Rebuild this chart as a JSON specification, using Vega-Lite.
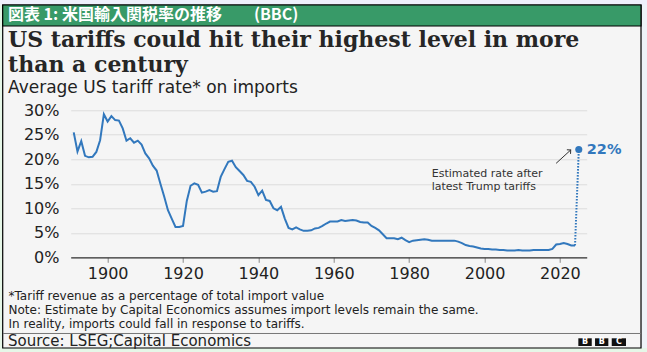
{
  "$schema": "https://vega.github.io/schema/vega-lite/v6.json",
  "width": 516,
  "height": 147,
  "autosize": {"type": "none"},
  "padding": {"left": 70.7, "top": 110.3, "right": 60.3, "bottom": 94.7},
  "background": "#f5f5f5",
  "config": {
    "view": {"stroke": null},
    "font": "DejaVu Sans",
    "axis": {"labelOverlap": false, "labelFlush": false},
    "axisY": {"labelOverlap": false, "tickCount": 7}
  },
  "title": {
    "text": ["US tariffs could hit their highest level in more", "than a century"],
    "subtitle": "Average US tariff rate* on imports",
    "anchor": "start",
    "frame": "group",
    "dx": -62.7,
    "offset": -97,
    "font": "DejaVu Serif",
    "fontSize": 22,
    "fontWeight": "bold",
    "color": "#262626",
    "lineHeight": 25,
    "subtitleFont": "DejaVu Sans",
    "subtitleFontSize": 17,
    "subtitleColor": "#222222",
    "subtitlePadding": 3
  },
  "datasets": {
    "tariff": [
      {"year": 1891, "rate": 25.5}, {"year": 1892, "rate": 21.6}, {"year": 1893, "rate": 23.7}, {"year": 1894, "rate": 20.7},
      {"year": 1895, "rate": 20.4}, {"year": 1896, "rate": 20.5}, {"year": 1897, "rate": 21.5}, {"year": 1898, "rate": 23.9},
      {"year": 1899, "rate": 29.2}, {"year": 1900, "rate": 27.7}, {"year": 1901, "rate": 28.8}, {"year": 1902, "rate": 28.0},
      {"year": 1903, "rate": 27.9}, {"year": 1904, "rate": 26.3}, {"year": 1905, "rate": 23.8}, {"year": 1906, "rate": 24.3},
      {"year": 1907, "rate": 23.4}, {"year": 1908, "rate": 23.8}, {"year": 1909, "rate": 23.0}, {"year": 1910, "rate": 21.2},
      {"year": 1911, "rate": 20.2}, {"year": 1912, "rate": 18.7}, {"year": 1913, "rate": 17.7}, {"year": 1914, "rate": 15.0},
      {"year": 1915, "rate": 12.4}, {"year": 1916, "rate": 9.6}, {"year": 1917, "rate": 7.9}, {"year": 1918, "rate": 6.2},
      {"year": 1919, "rate": 6.2}, {"year": 1920, "rate": 6.4}, {"year": 1921, "rate": 11.5}, {"year": 1922, "rate": 14.6},
      {"year": 1923, "rate": 15.1}, {"year": 1924, "rate": 14.8}, {"year": 1925, "rate": 13.2}, {"year": 1926, "rate": 13.4},
      {"year": 1927, "rate": 13.7}, {"year": 1928, "rate": 13.4}, {"year": 1929, "rate": 13.5}, {"year": 1930, "rate": 16.4},
      {"year": 1931, "rate": 18.0}, {"year": 1932, "rate": 19.5}, {"year": 1933, "rate": 19.7}, {"year": 1934, "rate": 18.4},
      {"year": 1935, "rate": 17.6}, {"year": 1936, "rate": 16.8}, {"year": 1937, "rate": 15.6}, {"year": 1938, "rate": 15.4},
      {"year": 1939, "rate": 14.4}, {"year": 1940, "rate": 12.7}, {"year": 1941, "rate": 13.6}, {"year": 1942, "rate": 11.7},
      {"year": 1943, "rate": 11.5}, {"year": 1944, "rate": 10.0}, {"year": 1945, "rate": 9.6}, {"year": 1946, "rate": 10.3},
      {"year": 1947, "rate": 7.9}, {"year": 1948, "rate": 6.0}, {"year": 1949, "rate": 5.7}, {"year": 1950, "rate": 6.1},
      {"year": 1951, "rate": 5.7}, {"year": 1952, "rate": 5.4}, {"year": 1953, "rate": 5.4}, {"year": 1954, "rate": 5.5},
      {"year": 1955, "rate": 5.9}, {"year": 1956, "rate": 6.0}, {"year": 1957, "rate": 6.4}, {"year": 1958, "rate": 6.9},
      {"year": 1959, "rate": 7.3}, {"year": 1960, "rate": 7.3}, {"year": 1961, "rate": 7.3}, {"year": 1962, "rate": 7.6},
      {"year": 1963, "rate": 7.4}, {"year": 1964, "rate": 7.5}, {"year": 1965, "rate": 7.6}, {"year": 1966, "rate": 7.5},
      {"year": 1967, "rate": 7.2}, {"year": 1968, "rate": 7.1}, {"year": 1969, "rate": 7.1}, {"year": 1970, "rate": 6.4},
      {"year": 1971, "rate": 6.0}, {"year": 1972, "rate": 5.5}, {"year": 1973, "rate": 4.7}, {"year": 1974, "rate": 3.9},
      {"year": 1975, "rate": 3.9}, {"year": 1976, "rate": 3.9}, {"year": 1977, "rate": 3.7}, {"year": 1978, "rate": 4.0},
      {"year": 1979, "rate": 3.5}, {"year": 1980, "rate": 3.1}, {"year": 1981, "rate": 3.4}, {"year": 1982, "rate": 3.5},
      {"year": 1983, "rate": 3.6}, {"year": 1984, "rate": 3.7}, {"year": 1985, "rate": 3.6}, {"year": 1986, "rate": 3.4},
      {"year": 1987, "rate": 3.4}, {"year": 1988, "rate": 3.4}, {"year": 1989, "rate": 3.4}, {"year": 1990, "rate": 3.4},
      {"year": 1991, "rate": 3.4}, {"year": 1992, "rate": 3.4}, {"year": 1993, "rate": 3.2}, {"year": 1994, "rate": 2.9},
      {"year": 1995, "rate": 2.5}, {"year": 1996, "rate": 2.3}, {"year": 1997, "rate": 2.2}, {"year": 1998, "rate": 2.0},
      {"year": 1999, "rate": 1.8}, {"year": 2000, "rate": 1.7}, {"year": 2001, "rate": 1.7}, {"year": 2002, "rate": 1.6},
      {"year": 2003, "rate": 1.6}, {"year": 2004, "rate": 1.5}, {"year": 2005, "rate": 1.5}, {"year": 2006, "rate": 1.4},
      {"year": 2007, "rate": 1.4}, {"year": 2008, "rate": 1.4}, {"year": 2009, "rate": 1.5}, {"year": 2010, "rate": 1.4},
      {"year": 2011, "rate": 1.4}, {"year": 2012, "rate": 1.4}, {"year": 2013, "rate": 1.5}, {"year": 2014, "rate": 1.5},
      {"year": 2015, "rate": 1.5}, {"year": 2016, "rate": 1.5}, {"year": 2017, "rate": 1.5}, {"year": 2018, "rate": 1.7},
      {"year": 2019, "rate": 2.6}, {"year": 2020, "rate": 2.7}, {"year": 2021, "rate": 2.9}, {"year": 2022, "rate": 2.7},
      {"year": 2023, "rate": 2.4}, {"year": 2024, "rate": 2.4}
    ],
    "estimate": [
      {"year": 2024, "rate": 2.4},
      {"year": 2025, "rate": 22}
    ],
    "latest": [
      {"year": 2025, "rate": 22, "label": "22%"}
    ],
    "one": [{}]
  },
  "data": {"name": "one"},
  "layer": [
    {
      "data": {"name": "tariff"},
      "mark": {"type": "line", "color": "#3278bd", "strokeWidth": 2, "interpolate": "linear"},
      "encoding": {
        "x": {
          "field": "year", "type": "quantitative",
          "scale": {"domain": [1890.2, 2027.1], "nice": false, "zero": false},
          "axis": {
            "values": [1900, 1920, 1940, 1960, 1980, 2000, 2020],
            "format": "d",
            "grid": false,
            "domainColor": "#333333",
            "domainWidth": 1.2,
            "tickColor": "#888888",
            "tickSize": 5,
            "labelFont": "DejaVu Sans",
            "labelFontSize": 16,
            "labelColor": "#222222",
            "labelPadding": 3,
            "labelOverlap": false,
            "title": [
              "*Tariff revenue as a percentage of total import value",
              "Note: Estimate by Capital Economics assumes import levels remain the same.",
              "In reality, imports could fall in response to tariffs."
            ],
            "titleFont": "DejaVu Sans",
            "titleFontSize": 12,
            "titleFontWeight": "normal",
            "titleColor": "#222222",
            "titleAnchor": "start",
            "titleAlign": "left",
            "titleBaseline": "top",
            "titleLineHeight": 14,
            "titleX": -62.7,
            "titleY": 33
          }
        },
        "y": {
          "field": "rate", "type": "quantitative",
          "scale": {"domain": [0, 30], "nice": false},
          "axis": {
            "values": [0, 5, 10, 15, 20, 25, 30],
            "tickCount": 7,
            "labelExpr": "datum.value + '%'",
            "grid": true,
            "gridColor": "#dcdcdc",
            "gridWidth": 1,
            "domain": false,
            "ticks": false,
            "labelFont": "DejaVu Sans",
            "labelFontSize": 16,
            "labelColor": "#222222",
            "labelPadding": 11.7,
            "labelBaseline": "middle",
            "labelOverlap": false,
            "labelFlush": false,
            "title": null
          }
        }
      }
    },
    {
      "mark": {"type": "rect", "fill": "#eef0fb"},
      "encoding": {
        "x": {"datum": 1871.44, "type": "quantitative"},
        "x2": {"datum": 2043.1},
        "y": {"datum": 52.51, "type": "quantitative"},
        "y2": {"datum": 51.49}
      }
    },
    {
      "mark": {"type": "rect", "fill": "#e6f7e8"},
      "encoding": {
        "x": {"datum": 1871.44, "type": "quantitative"},
        "x2": {"datum": 1872.16},
        "y": {"datum": 51.49, "type": "quantitative"},
        "y2": {"datum": -19.33}
      }
    },
    {
      "mark": {"type": "rect", "fill": "#eef3f8"},
      "encoding": {
        "x": {"datum": 2041.51, "type": "quantitative"},
        "x2": {"datum": 2043.1},
        "y": {"datum": 51.49, "type": "quantitative"},
        "y2": {"datum": -19.33}
      }
    },
    {
      "mark": {"type": "rect", "fill": "#e6f7e8"},
      "encoding": {
        "x": {"datum": 1871.44, "type": "quantitative"},
        "x2": {"datum": 2043.1},
        "y": {"datum": -18.51, "type": "quantitative"},
        "y2": {"datum": -19.33}
      }
    },
    {
      "mark": {"type": "rect", "fill": null, "stroke": "#000000", "strokeWidth": 1.2},
      "encoding": {
        "x": {"datum": 1872.16, "type": "quantitative"},
        "x2": {"datum": 2041.51},
        "y": {"datum": 51.49, "type": "quantitative"},
        "y2": {"datum": -18.51}
      }
    },
    {
      "mark": {"type": "rect", "fill": "#389a68", "stroke": "#000000", "strokeWidth": 1.2},
      "encoding": {
        "x": {"datum": 1872.16, "type": "quantitative"},
        "x2": {"datum": 2041.51},
        "y": {"datum": 51.49, "type": "quantitative"},
        "y2": {"datum": 47.2}
      }
    },
    {
      "mark": {"type": "text", "text": "図表 1: 米国輸入関税率の推移　　(BBC)", "align": "left", "baseline": "middle", "font": "Noto Sans CJK JP", "fontSize": 16, "fontWeight": "bold", "color": "#ffffff"},
      "encoding": {
        "x": {"datum": 1873.56, "type": "quantitative"},
        "y": {"datum": 49.35, "type": "quantitative"}
      }
    },
    {
      "mark": {"type": "rule", "color": "#777777", "strokeWidth": 1},
      "encoding": {
        "x": {"datum": 1872.24, "type": "quantitative"},
        "x2": {"datum": 2041.51},
        "y": {"datum": -15.55, "type": "quantitative"}
      }
    },
    {
      "mark": {"type": "text", "text": "Source: LSEG;Capital Economics", "align": "left", "baseline": "middle", "fontSize": 15, "color": "#222222"},
      "encoding": {
        "x": {"datum": 1873.56, "type": "quantitative"},
        "y": {"datum": -17.08, "type": "quantitative"}
      }
    },
    {
      "mark": {"type": "rect", "fill": "#111111"},
      "encoding": {
        "x": {"datum": 2024.88, "type": "quantitative"},
        "x2": {"datum": 2028.44},
        "y": {"datum": -16.53, "type": "quantitative"},
        "y2": {"datum": -18.1}
      }
    },
    {
      "mark": {"type": "rect", "fill": "#111111"},
      "encoding": {
        "x": {"datum": 2029.31, "type": "quantitative"},
        "x2": {"datum": 2032.84},
        "y": {"datum": -16.53, "type": "quantitative"},
        "y2": {"datum": -18.1}
      }
    },
    {
      "mark": {"type": "rect", "fill": "#111111"},
      "encoding": {
        "x": {"datum": 2033.74, "type": "quantitative"},
        "x2": {"datum": 2037.53},
        "y": {"datum": -16.53, "type": "quantitative"},
        "y2": {"datum": -18.1}
      }
    },
    {
      "mark": {"type": "text", "text": "B", "align": "center", "baseline": "middle", "fontSize": 8, "fontWeight": "bold", "color": "#ffffff"},
      "encoding": {
        "x": {"datum": 2026.66, "type": "quantitative"},
        "y": {"datum": -17.33, "type": "quantitative"}
      }
    },
    {
      "mark": {"type": "text", "text": "B", "align": "center", "baseline": "middle", "fontSize": 8, "fontWeight": "bold", "color": "#ffffff"},
      "encoding": {
        "x": {"datum": 2031.08, "type": "quantitative"},
        "y": {"datum": -17.33, "type": "quantitative"}
      }
    },
    {
      "mark": {"type": "text", "text": "C", "align": "center", "baseline": "middle", "fontSize": 8, "fontWeight": "bold", "color": "#ffffff"},
      "encoding": {
        "x": {"datum": 2035.64, "type": "quantitative"},
        "y": {"datum": -17.33, "type": "quantitative"}
      }
    },
    {
      "data": {"name": "estimate"},
      "mark": {"type": "line", "color": "#3278bd", "strokeWidth": 2, "strokeDash": [1.6, 1.4]},
      "encoding": {
        "x": {"field": "year", "type": "quantitative"},
        "y": {"field": "rate", "type": "quantitative"}
      }
    },
    {
      "data": {"name": "latest"},
      "mark": {"type": "point", "filled": true, "size": 50, "color": "#3278bd", "opacity": 1},
      "encoding": {
        "x": {"field": "year", "type": "quantitative"},
        "y": {"field": "rate", "type": "quantitative"}
      }
    },
    {
      "data": {"name": "latest"},
      "mark": {"type": "text", "align": "left", "baseline": "middle", "dx": 8, "fontSize": 14.5, "fontWeight": "bold", "color": "#3278bd"},
      "encoding": {
        "x": {"field": "year", "type": "quantitative"},
        "y": {"field": "rate", "type": "quantitative"},
        "text": {"field": "label"}
      }
    },
    {
      "mark": {"type": "text", "text": ["Estimated rate after", "latest Trump tariffs"], "align": "left", "baseline": "middle", "fontSize": 11, "lineHeight": 12.5, "color": "#333333"},
      "encoding": {
        "x": {"datum": 1985.98, "type": "quantitative"},
        "y": {"datum": 17.0, "type": "quantitative"}
      }
    },
    {
      "mark": {"type": "rule", "color": "#333333", "strokeWidth": 1},
      "encoding": {
        "x": {"datum": 2018.99, "type": "quantitative"},
        "x2": {"datum": 2022.86},
        "y": {"datum": 19.18, "type": "quantitative"},
        "y2": {"datum": 21.9}
      }
    },
    {
      "mark": {"type": "point", "shape": "M-1,1L0,0L1,1", "filled": false, "size": 30, "stroke": "#333333", "strokeWidth": 1, "angle": 48, "opacity": 1},
      "encoding": {
        "x": {"datum": 2022.86, "type": "quantitative"},
        "y": {"datum": 21.9, "type": "quantitative"}
      }
    }
  ]
}
